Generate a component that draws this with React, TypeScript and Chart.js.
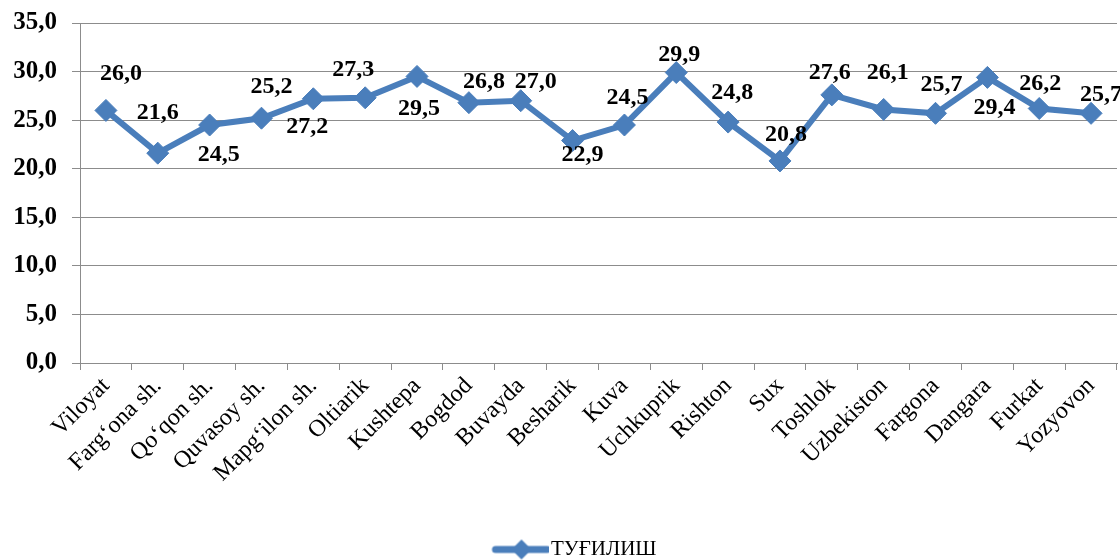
import React, { useEffect, useRef } from "react";
import { Chart, registerables } from "chart.js";

Chart.register(...registerables);

const categories = [
  "Viloyat", "Farg\u2018ona sh.", "Qo\u2018qon sh.", "Quvasoy sh.", "Mapg\u2018ilon sh.",
  "Oltiarik", "Kushtepa", "Bogdod", "Buvayda", "Besharik", "Kuva", "Uchkuprik",
  "Rishton", "Sux", "Toshlok", "Uzbekiston", "Fargona", "Dangara", "Furkat", "Yozyovon",
];
const birthValues = [26.0, 21.6, 24.5, 25.2, 27.2, 27.3, 29.5, 26.8, 27.0, 22.9, 24.5, 29.9, 24.8, 20.8, 27.6, 26.1, 25.7, 29.4, 26.2, 25.7];
const seriesName = "ТУҒИЛИШ";
const yTicks = [0, 5, 10, 15, 20, 25, 30, 35];

// label offsets (dx, dy) in px relative to the point
const labelOffsets: [number, number][] = [
  [15, -37], [0, -40], [9, 30], [10, -31], [-6, 28], [-12, -28], [2, 32], [15, -21],
  [15, -19], [10, 14], [3, -27], [3, -18], [4, -29], [6, -26], [-2, -22], [4, -37],
  [6, -29], [7, 30], [1, -25], [10, -19],
];

const BLUE = "#4A7EBB";
const SERIF = "'Liberation Serif', 'Times New Roman', serif";
const fmt = (v: number) => v.toFixed(1).replace(".", ",");

const labelPlugin = {
  id: "valueLabels",
  afterDatasetsDraw(chart: any) {
    const ctx = chart.ctx;
    const meta = chart.getDatasetMeta(0);
    ctx.save();
    ctx.font = `bold 24px ${SERIF}`;
    ctx.fillStyle = "#000";
    ctx.textAlign = "center";
    ctx.textBaseline = "middle";
    meta.data.forEach((pt: any, i: number) => {
      const [dx, dy] = labelOffsets[i];
      ctx.fillText(fmt(birthValues[i]), pt.x + dx, pt.y + dy);
    });
    ctx.restore();
  },
};

function makeLegendIcon() {
  const c = document.createElement("canvas");
  c.width = 98;
  c.height = 22;
  const g = c.getContext("2d")!;
  g.strokeStyle = BLUE;
  g.lineWidth = 7;
  g.lineCap = "round";
  g.beginPath();
  g.moveTo(44, 11);
  g.lineTo(96, 11);
  g.stroke();
  g.fillStyle = BLUE;
  g.beginPath();
  g.moveTo(70, 1);
  g.lineTo(80, 11);
  g.lineTo(70, 21);
  g.lineTo(60, 11);
  g.closePath();
  g.fill();
  return c;
}

export default function App() {
  const ref = useRef<HTMLCanvasElement>(null);
  useEffect(() => {
    const icon = makeLegendIcon();
    const chart = new Chart(ref.current!, {
      type: "line",
      data: {
        labels: categories,
        datasets: [
          {
            label: seriesName,
            data: birthValues,
            borderColor: BLUE,
            backgroundColor: BLUE,
            borderWidth: 6,
            pointStyle: "rectRot",
            pointRadius: 11,
            pointBorderWidth: 1,
            pointBackgroundColor: BLUE,
            pointBorderColor: BLUE,
            tension: 0,
          },
        ],
      },
      options: {
        animation: false,
        responsive: false,
        layout: { autoPadding: false, padding: { top: 23, right: 3, left: 0, bottom: -10 } },
        plugins: {
          tooltip: { enabled: false },
          legend: {
            position: "bottom",
            labels: {
              usePointStyle: true,
              pointStyleWidth: 80,
              padding: 0,
              color: "#000",
              font: { family: SERIF, size: 21 },
              generateLabels: () => [
                { text: seriesName, pointStyle: icon as any, fillStyle: BLUE, strokeStyle: BLUE, lineWidth: 0, datasetIndex: 0 } as any,
              ],
            },
          },
        },
        scales: {
          x: {
            offset: true,
            grid: { display: true, drawOnChartArea: false, drawTicks: true, tickLength: 7, offset: true, color: "#8c8c8c" },
            border: { color: "#8c8c8c", width: 1 },
            ticks: {
              color: "#000",
              font: { family: SERIF, size: 24 },
              maxRotation: 45,
              minRotation: 45,
              autoSkip: false,
              padding: 2,
            },
            afterFit: (s: any) => {
              s.height = 176;
              s.paddingLeft = 0;
              s.paddingRight = 0;
            },
          },
          y: {
            min: 0,
            max: 35,
            afterBuildTicks: (s: any) => { s.ticks = yTicks.map((v) => ({ value: v })); },
            grid: { color: "#8c8c8c", tickLength: 8, lineWidth: 1 },
            border: { color: "#8c8c8c", width: 1 },
            ticks: {
              color: "#000",
              font: { family: SERIF, size: 25, weight: "bold" },
              padding: 15,
              callback: (v: any) => fmt(Number(v)),
            },
            afterFit: (s: any) => {
              s.width = 80;
              s.paddingTop = 0;
              s.paddingBottom = 0;
            },
          },
        },
      },
      plugins: [labelPlugin],
    });
    return () => chart.destroy();
  }, []);
  return (
    <div style={{ position: "fixed", left: 0, top: 0, width: 1120, height: 560, background: "#fff" }}>
      <canvas ref={ref} width={1120} height={560} />
    </div>
  );
}
